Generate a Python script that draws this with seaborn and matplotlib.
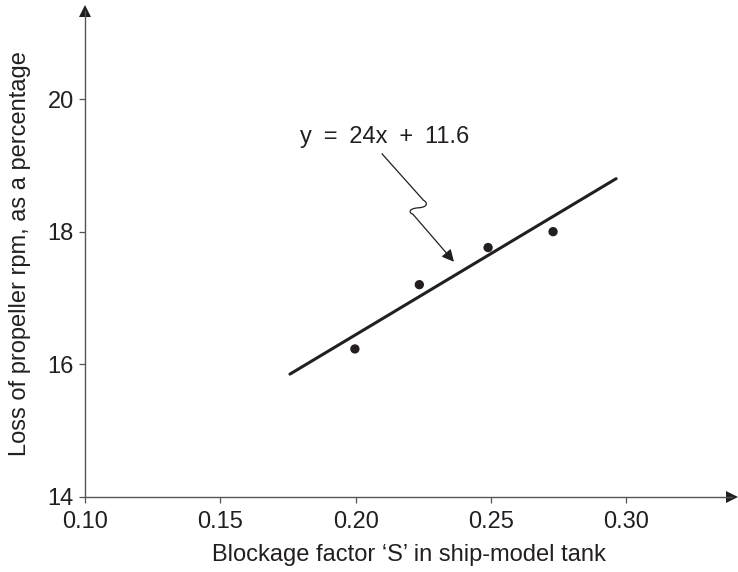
import matplotlib
matplotlib.use("Agg")
import matplotlib.pyplot as plt
import seaborn as sns
import pandas as pd
from matplotlib.path import Path
from matplotlib.patches import PathPatch

# ---- data ----
blockage = [0.1997, 0.2235, 0.2489, 0.2729]
rpm_loss = [16.23, 17.20, 17.76, 18.00]
fit_x = [0.1757, 0.2962]
fit_y = [15.85, 18.80]
x_ticks = [0.10, 0.15, 0.20, 0.25, 0.30]
x_tick_labels = ["0.10", "0.15", "0.20", "0.25", "0.30"]
y_ticks = [14, 16, 18, 20]
y_tick_labels = ["14", "16", "18", "20"]
equation = "y\u2002=\u200224x\u2002+\u200211.6"

sns.set_theme(style="white")
plt.rcParams["font.family"] = ["Liberation Sans", "DejaVu Sans"]

ink = "#231f20"
axis_col = "#555555"
fs = 17

fig = plt.figure(figsize=(7.38, 5.72), dpi=100)
ax = fig.add_axes([85 / 738, 75.3 / 572, (732 - 85) / 738, (496.7 - 11) / 572])

pts = pd.DataFrame({"S": blockage, "loss": rpm_loss})
fit = pd.DataFrame({"S": fit_x, "loss": fit_y})
sns.lineplot(data=fit, x="S", y="loss", ax=ax, color=ink, lw=2.2)
sns.scatterplot(data=pts, x="S", y="loss", ax=ax, color=ink, s=45, edgecolor="none", zorder=3)

ax.set_xlim(0.10, 0.339)
ax.set_ylim(14, 21.33)
ax.set_xticks(x_ticks)
ax.set_xticklabels(x_tick_labels)
ax.set_yticks(y_ticks)
ax.set_yticklabels(y_tick_labels)

for s in ["top", "right"]:
    ax.spines[s].set_visible(False)
for s in ["left", "bottom"]:
    ax.spines[s].set_color(axis_col)
    ax.spines[s].set_linewidth(1.0)

ax.tick_params(axis="both", which="major", direction="out", length=4, width=0.9,
               color=axis_col, labelsize=fs, labelcolor=ink)
ax.tick_params(axis="x", pad=6, bottom=True)
ax.tick_params(axis="y", pad=4, left=True)

# axis arrowheads
ax.plot(1, 0, ">", color=ink, markersize=9, markeredgewidth=0, transform=ax.transAxes, clip_on=False)
ax.plot(0, 1, "^", color=ink, markersize=9, markeredgewidth=0, transform=ax.transAxes, clip_on=False)

ax.set_xlabel("Blockage factor \u2018S\u2019 in ship-model tank", fontsize=fs, color=ink, labelpad=8)
ax.set_ylabel("Loss of propeller rpm, as a percentage", fontsize=fs, color=ink, labelpad=12)

# equation annotation with squiggly leader arrow
ax.text(0.2108, 19.43, equation, fontsize=fs, color=ink, ha="center", va="center")
verts = [
    (0.2096, 19.18),
    (0.2250, 18.475),
    (0.2266, 18.44), (0.2268, 18.37), (0.2232, 18.36),
    (0.2196, 18.35), (0.2194, 18.29), (0.2212, 18.26),
]
codes = [Path.MOVETO, Path.LINETO,
         Path.CURVE4, Path.CURVE4, Path.CURVE4,
         Path.CURVE4, Path.CURVE4, Path.CURVE4]
ax.add_patch(PathPatch(Path(verts, codes), facecolor="none", edgecolor=ink, lw=0.9))
ax.annotate("", xy=(0.2363, 17.545), xytext=(0.2212, 18.26),
            arrowprops=dict(arrowstyle="-|>", color=ink, lw=0.9, mutation_scale=18,
                            shrinkA=0, shrinkB=0))

fig.savefig("out.png", dpi=100)
